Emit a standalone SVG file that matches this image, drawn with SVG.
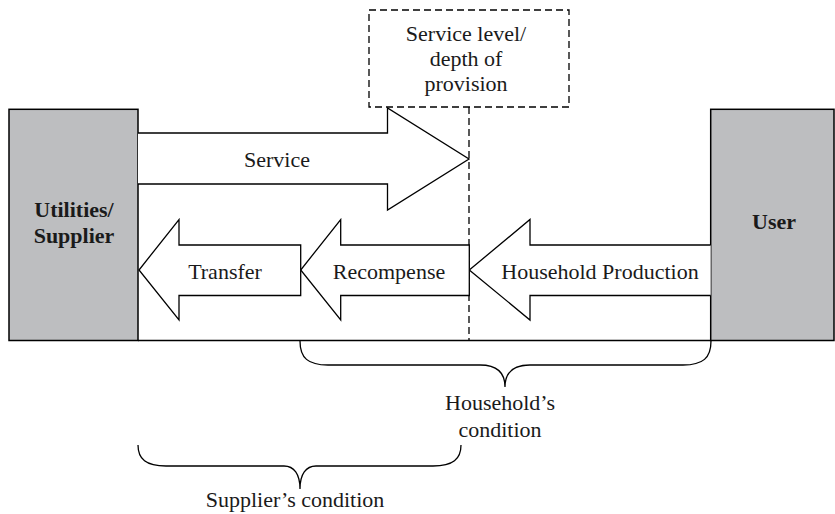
<svg xmlns="http://www.w3.org/2000/svg" width="835" height="514" viewBox="0 0 835 514" font-family="'Liberation Serif', 'DejaVu Serif', serif">
  <style>
    .box { fill: #bdbec0; stroke: #000; stroke-width: 1.5; }
    .arrow { fill: #fff; stroke: #000; stroke-width: 1.3; stroke-linejoin: miter; }
    .dash { fill: none; stroke: #000; stroke-width: 1.3; stroke-dasharray: 7 4; }
    .line { fill: none; stroke: #000; stroke-width: 1.5; }
    .brace { fill: none; stroke: #000; stroke-width: 1.3; }
    text { font-family: 'Liberation Serif', 'DejaVu Serif', serif; font-size: 22px; fill: #1a1a1a; text-anchor: middle; }
    .b { font-weight: bold; }
  </style>

  <!-- base line joining the two end blocks -->
  <g id="baseline">
    <line class="line" x1="138" y1="340.5" x2="711" y2="340.5"/>
  </g>

  <g id="supplier">
    <rect class="box" x="9" y="109.3" width="129" height="231.2"/>
    <text class="b" x="74" y="216.5">Utilities/</text>
    <text class="b" x="74" y="243">Supplier</text>
  </g>

  <g id="user">
    <rect class="box" x="710.7" y="109.3" width="123.3" height="231.2"/>
    <text class="b" x="774" y="229">User</text>
  </g>

  <g id="service-level">
    <rect class="dash" x="369" y="10" width="200" height="97"/>
    <text x="466" y="41">Service level/</text>
    <text x="466" y="66">depth of</text>
    <text x="466" y="91">provision</text>
  </g>

  <g id="connectors">
    <!-- service level marker line -->
    <line class="dash" x1="469" y1="107" x2="469" y2="340.5"/>

    <!-- Service: supplier to user -->
    <g id="service">
      <path class="arrow" d="M138,133 L387.5,133 L387.5,108 L469,159 L387.5,210 L387.5,184 L138,184"/>
      <text x="277" y="167">Service</text>
    </g>

    <!-- Household Production: user back toward the service level -->
    <g id="household-production">
      <path class="arrow" d="M710.7,245 L530,245 L530,219.5 L469.3,270 L530,320 L530,295.5 L710.7,295.5"/>
      <text x="600" y="279">Household Production</text>
    </g>

    <!-- Recompense -->
    <g id="recompense">
      <path class="arrow" d="M469.3,245 L340.7,245 L340.7,219.5 L300.7,270 L340.7,320 L340.7,295.5 L469.3,295.5 Z"/>
      <text x="389" y="279">Recompense</text>
    </g>

    <!-- Transfer -->
    <g id="transfer">
      <path class="arrow" d="M300.7,245 L179,245 L179,219.5 L139,270 L179,320 L179,295.5 L300.7,295.5 Z"/>
      <text x="225" y="279">Transfer</text>
    </g>
  </g>

  <g id="households-condition">
    <path class="brace" d="M300,341 C300,358 308,365 328,365 L480,365 C496,365 505,372 505,387 C505,372 514,365 530,365 L683,365 C703,365 711,358 711,341"/>
    <text x="500" y="410">Household’s</text>
    <text x="500" y="437">condition</text>
  </g>

  <g id="suppliers-condition">
    <path class="brace" d="M138,445 C138,459 146,466 166,466 L284,466 C294,466 300,474 300,489 C300,474 306,466 316,466 L433,466 C453,466 461,459 461,445"/>
    <text x="295" y="507">Supplier’s condition</text>
  </g>
</svg>
